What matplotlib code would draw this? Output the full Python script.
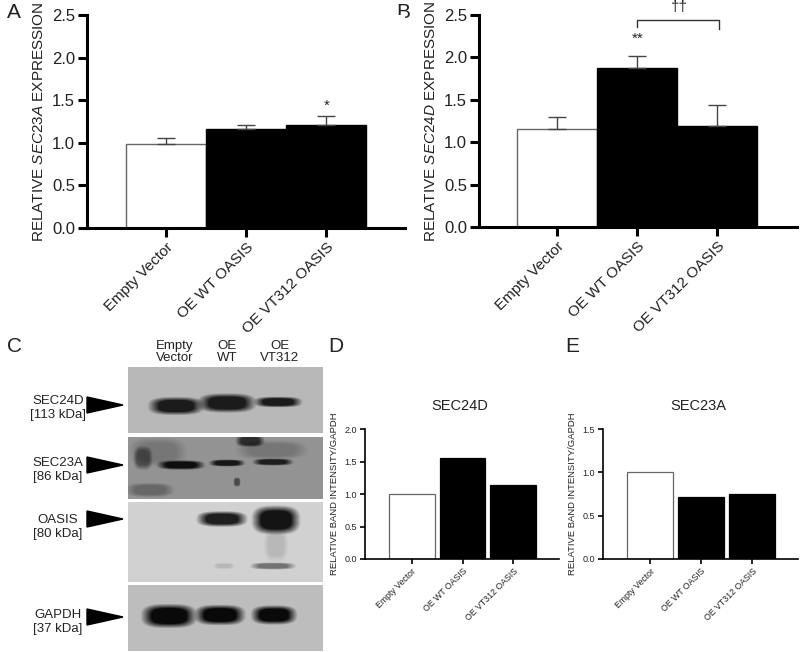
#!/usr/bin/env python3
import numpy as np
import matplotlib
matplotlib.use("Agg")
import matplotlib.pyplot as plt
from matplotlib.patches import Polygon

plt.rcParams['font.family'] = ['Liberation Sans', 'DejaVu Sans']
plt.rcParams['mathtext.fontset'] = 'custom'
plt.rcParams['mathtext.rm'] = 'Liberation Sans'
plt.rcParams['mathtext.it'] = 'Liberation Sans:italic'

W, H = 800, 652
TEXT = '#222222'

groups = ['Empty Vector', 'OE WT OASIS', 'OE VT312 OASIS']
fills = ['white', 'black', 'black']

sec23a_qpcr = [0.99, 1.16, 1.21]
sec23a_err = [0.07, 0.05, 0.11]
sec24d_qpcr = [1.16, 1.87, 1.19]
sec24d_err = [0.14, 0.15, 0.25]
sec24d_band = [1.0, 1.55, 1.14]
sec23a_band = [1.0, 0.72, 0.75]

qpcr_ticks = [0.0, 0.5, 1.0, 1.5, 2.0, 2.5]
d_ticks = [0.0, 0.5, 1.0, 1.5, 2.0]
e_ticks = [0.0, 0.5, 1.0, 1.5]

# blot bands as (x, y, half width, half height, darkness), in screen pixels
bands_24d = [(176, 406, 23, 7.5, 0.85), (227, 403, 24, 8, 0.85), (278, 402, 20, 4.5, 0.85)]
bands_23a = [(181, 465, 20, 4, 0.9), (227, 463, 15, 3, 0.85), (273, 462, 17, 3, 0.8),
             (143, 458, 8, 10, 0.45), (250, 441, 12, 5, 0.7), (237, 482, 3, 4, 0.5),
             (158, 452, 24, 12, 0.2), (272, 450, 30, 8, 0.2), (150, 490, 20, 6, 0.3)]
bands_oasis = [(222, 519, 21, 6.5, 0.85), (276, 520, 20, 12, 0.9), (224, 566, 9, 2.5, 0.12),
               (273, 566, 19, 3, 0.45), (276, 545, 10, 14, 0.12)]
bands_gapdh = [(169, 616, 23, 10, 0.95), (220, 615, 21, 8.5, 0.95), (274, 615, 19, 8, 0.95)]

blots = [((128, 367, 323, 433), 0.72, bands_24d),
         ((128, 437, 323, 499), 0.58, bands_23a),
         ((128, 502, 323, 582), 0.82, bands_oasis),
         ((128, 585, 323, 651), 0.74, bands_gapdh)]

blot_labels = [('SEC24D\n[113 kDa]', 58, 408), ('SEC23A\n[86 kDa]', 58, 470),
               ('OASIS\n[80 kDa]', 58, 527), ('GAPDH\n[37 kDa]', 58, 622)]
arrow_y = [405, 465, 519, 617]
lane_labels = [('Empty\nVector', 175), ('OE\nWT', 227), ('OE\nVT312', 280)]
panel_letters = [('A', 7, 12), ('B', 396, 12), ('C', 7, 346), ('D', 328, 346), ('E', 565, 346)]


def px_axes(fig, left, top, right, bottom):
    return fig.add_axes([left / W, 1 - bottom / H, (right - left) / W, (bottom - top) / H])


def draw_bars(ax, values, errs, width, lw_axis, lw_edge, ticks, ylab, tick_fs, lab_fs, x_fs, xlim):
    x = np.arange(1, 4)
    ax.bar(x, values, width=width, color=fills, edgecolor=['#666666', 'black', 'black'], linewidth=lw_edge)
    if errs is not None:
        ax.errorbar(x, values, yerr=[np.zeros(3), errs], fmt='none', ecolor='#444444',
                    elinewidth=1, capsize=6.5, capthick=1)
    ax.set_xlim(*xlim)
    ax.set_ylim(ticks[0], ticks[-1])
    ax.set_yticks(ticks)
    ax.set_yticklabels([f'{t:.1f}' for t in ticks], fontsize=tick_fs, color=TEXT)
    ax.set_xticks(x)
    ax.set_xticklabels(groups, rotation=45, ha='right', rotation_mode='anchor', fontsize=x_fs, color=TEXT)
    ax.set_ylabel(ylab, fontsize=lab_fs, color=TEXT)
    ax.tick_params(axis='both', width=lw_axis, length=lw_axis * 3, pad=2, color='black')
    for side in ['top', 'right']:
        ax.spines[side].set_visible(False)
    for side in ['left', 'bottom']:
        ax.spines[side].set_linewidth(lw_axis)


def draw_blot(ax_page, box, base, bands):
    left, top, right, bottom = box
    xx, yy = np.meshgrid(np.arange(left, right) + 0.5, np.arange(top, bottom) + 0.5)
    img = np.full(xx.shape, base)
    for cx, cy, rx, ry, dark in bands:
        r = (np.abs((xx - cx) / rx) ** 3 + np.abs((yy - cy) / ry) ** 3) ** (1 / 3)
        mask = np.clip(1.25 - r, 0, 0.5) * 2
        img = img * (1 - dark * mask)
    ax_page.imshow(img, cmap='gray', vmin=0, vmax=1, extent=(left, right, bottom, top),
                   interpolation='bilinear', aspect='auto', zorder=1)


fig = plt.figure(figsize=(W / 100, H / 100), dpi=100, facecolor='white')

page = fig.add_axes([0, 0, 1, 1])
page.set_xlim(0, W)
page.set_ylim(H, 0)
page.axis('off')

for box, base, bands in blots:
    draw_blot(page, box, base, bands)
page.set_xlim(0, W)
page.set_ylim(H, 0)

for text, x, y in blot_labels:
    page.text(x, y, text, ha='center', va='center', fontsize=9.5, color=TEXT, linespacing=1.15)
for y in arrow_y:
    page.add_patch(Polygon([(87, y - 8), (87, y + 8), (123, y)], closed=True, color='black', zorder=3))
for text, x in lane_labels:
    page.text(x, 352, text, ha='center', va='center', fontsize=9.5, color=TEXT, linespacing=1.05)
for text, x, y in panel_letters:
    page.text(x, y, text, ha='left', va='center', fontsize=15, color=TEXT)

# top row
ax_a = px_axes(fig, 87, 15, 405, 228)
draw_bars(ax_a, sec23a_qpcr, sec23a_err, 1.0, 2.2, 1, qpcr_ticks,
          r'RELATIVE $\mathit{SEC23A}$ EXPRESSION', 12, 11, 11, (0.02, 3.98))
ax_a.text(3, 1.44, '*', ha='center', va='center', fontsize=11, color=TEXT)

ax_b = px_axes(fig, 479, 15, 797, 227)
draw_bars(ax_b, sec24d_qpcr, sec24d_err, 1.0, 2.2, 1, qpcr_ticks,
          r'RELATIVE $\mathit{SEC24D}$ EXPRESSION', 12, 11, 11, (0.02, 4.0))
ax_b.text(2, 2.22, '**', ha='center', va='center', fontsize=11, color=TEXT)
ax_b.plot([2, 2, 3.03, 3.03], [2.36, 2.44, 2.44, 2.33], color='#333333', lw=1, clip_on=False)
ax_b.text(2.53, 2.59, '††', ha='center', va='center', fontsize=11, color=TEXT, clip_on=False)

# bottom row
ax_d = px_axes(fig, 365, 429, 559, 559)
draw_bars(ax_d, sec24d_band, None, 0.9, 1.2, 0.9, d_ticks,
          'RELATIVE BAND INTENSITY/GAPDH', 6.5, 6.8, 6.3, (0.08, 3.9))
ax_d.set_title('SEC24D', fontsize=10.5, color=TEXT, pad=14, x=0.49)

ax_e = px_axes(fig, 603, 429, 798, 559)
draw_bars(ax_e, sec23a_band, None, 0.9, 1.2, 0.9, e_ticks,
          'RELATIVE BAND INTENSITY/GAPDH', 6.5, 6.8, 6.3, (0.08, 3.9))
ax_e.set_title('SEC23A', fontsize=10.5, color=TEXT, pad=14, x=0.49)

fig.savefig('out.png', dpi=100)
plt.close(fig)
